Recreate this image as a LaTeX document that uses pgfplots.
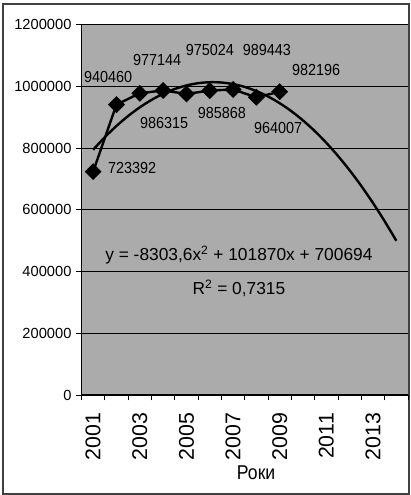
\documentclass[border=0pt]{standalone}
\usepackage{pgfplots}
\pgfplotsset{compat=1.18}
\usepackage{fontspec}
\setmainfont{Liberation Sans}
\begin{document}
\begin{tikzpicture}[x=1pt,y=1pt]
\useasboundingbox (-61.1,-75) rectangle (246.4,296.25);
\draw[black!75, line width=0.9pt] (-58.9,-74.3) rectangle (245.6,293.2);
\begin{axis}[
  at={(0,0)}, anchor=south west,
  scale only axis, width=244.9pt, height=277.9pt,
  xmin=0.5, xmax=14.5, ymin=0, ymax=1200000,
  axis background/.style={fill=black!33},
  axis lines*=left, axis line style={-, black, line width=0.8pt},
  tick align=outside, major tick length=4pt,
  tick style={black, line width=0.7pt},
  ytick={0,200000,400000,600000,800000,1000000,1200000},
  scaled y ticks=false,
  /pgf/number format/assume math mode=true,
  yticklabel style={/pgf/number format/fixed, /pgf/number format/1000 sep={}, font=\fontsize{11}{13}\selectfont},
  ymajorgrids, major grid style={black, line width=0.6pt},
  xtick={0.5,1.5,...,14.5}, xticklabels={},
  extra x ticks={1,3,5,7,9,11,13},
  extra x tick labels={2001,2003,2005,2007,2009,2011,2013},
  extra x tick style={major tick length=0pt, xticklabel style={anchor=east, rotate=90, font=\fontsize{16}{18}\selectfont, xshift=-10pt}},
  clip=false,
]
\addplot[black, line width=1.8pt, mark=square*, mark size=3.6pt, mark options={rotate=45, solid}]
  coordinates {(1,723392) (2,940460) (3,977144) (4,986315) (5,975024) (6,985868) (7,989443) (8,964007) (9,982196)};
\addplot[black, line width=1.8pt, smooth, no marks]
  coordinates {(1,794260) (1.5,834816) (2,871220) (2.5,903472) (3,931572) (3.5,955520) (4,975316) (4.5,990961) (5,1002454) (5.5,1009795) (6,1012984) (6.5,1012022) (7,1006908) (7.5,997642) (8,984224) (8.5,966654) (9,944932) (9.5,919059) (10,889034) (10.5,854857) (11,816528) (11.5,774048) (12,727416) (12.5,676632) (13,621696) (13.5,562608) (14,499368)};
\begin{scope}[every node/.style={font=\fontsize{12}{14}\selectfont, xscale=0.9, inner sep=0pt}]
\node at (axis cs:2.67,735200) {723392};
\node at (axis cs:1.64,1030000) {940460};
\node at (axis cs:3.74,1085000) {977144};
\node at (axis cs:4.04,881000) {986315};
\node at (axis cs:6.01,1117000) {975024};
\node at (axis cs:6.52,913000) {985868};
\node at (axis cs:8.45,1117000) {989443};
\node at (axis cs:8.93,865000) {964007};
\node at (axis cs:10.56,1053000) {982196};
\end{scope}
\node[font=\fontsize{13}{15}\selectfont, inner sep=0pt] at (axis cs:7.25,452800) {y = -8303,6x$^{\mathrm{2}}$ + 101870x + 700694};
\node[font=\fontsize{13}{15}\selectfont, inner sep=0pt] at (axis cs:7.25,346000) {R$^{\mathrm{2}}$ = 0,7315};
\node[font=\fontsize{15}{17}\selectfont, xscale=0.88, inner sep=0pt] at (131pt,-58pt) {Роки};
\end{axis}
\end{tikzpicture}
\end{document}
